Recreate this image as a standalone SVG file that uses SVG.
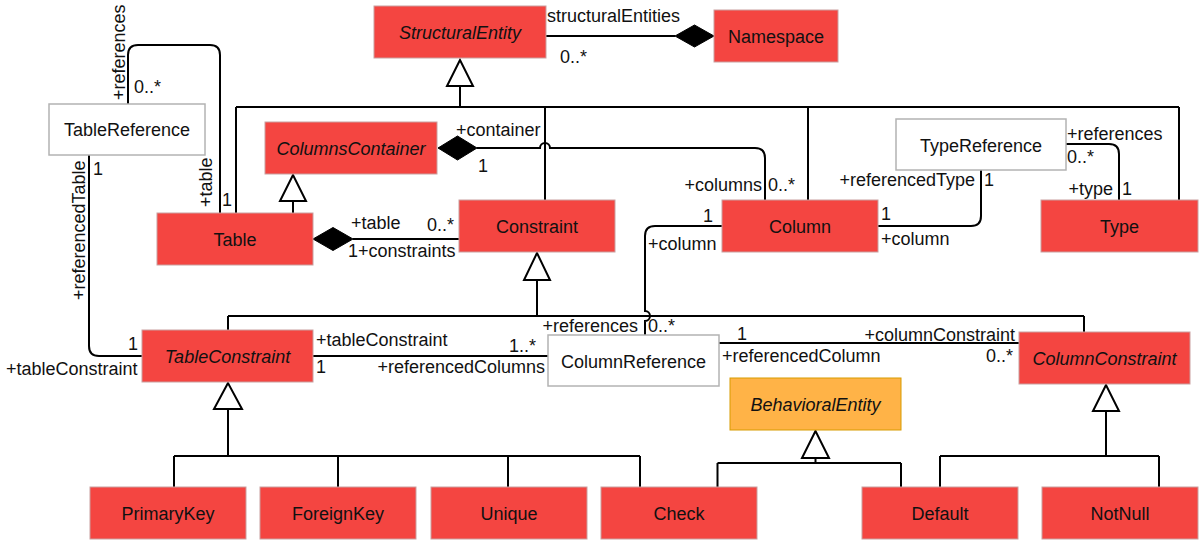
<svg xmlns="http://www.w3.org/2000/svg" width="1203" height="540" viewBox="0 0 1203 540">
<style>
.red{fill:#F44541;stroke:#C9A0A0;stroke-width:1}
.wht{fill:#FFFFFF;stroke:#B3B3B3;stroke-width:1.5}
.org{fill:#FFB347;stroke:#D79B00;stroke-width:1}
.nt{font-family:"Liberation Sans",Arial,sans-serif;font-size:18px;fill:#111;text-anchor:middle}
.it{font-style:italic}
.lb{font-family:"Liberation Sans",Arial,sans-serif;font-size:18px;fill:#111}
.e{fill:none;stroke:#000;stroke-width:2}
.tri{fill:#FFF;stroke:#000;stroke-width:2}
.dia{fill:#000;stroke:#000;stroke-width:1}
</style>
<rect width="1203" height="540" fill="#FFFFFF"/>
<g id="connectors">
  <!-- StructuralEntity - Namespace composition -->
  <path class="e" d="M546,36 L675,36"/>
  <polygon class="dia" points="714,36 694.5,25 675,36 694.5,47"/>
  <!-- generalization to StructuralEntity -->
  <path class="e" d="M460,86 L460,107 M236,107 L1179,107 M236,107 L236,213 M545,107 L545,200 M808,107 L808,200 M1179,107 L1179,200"/>
  <polygon class="tri" points="460,60 447,86 473,86"/>
  <!-- ColumnsContainer - Column composition -->
  <path class="e" d="M477,148 L540,148 A5,5 0 0 1 550,148 L755,148 Q765,148 765,158 L765,200"/>
  <polygon class="dia" points="438,148 457.5,136 477,148 457.5,160"/>
  <!-- Table inherits ColumnsContainer -->
  <path class="e" d="M293,201 L293,213"/>
  <polygon class="tri" points="293,175 280,201 306,201"/>
  <!-- TableReference - Table -->
  <path class="e" d="M128,104 L128,55 Q128,45 138,45 L210,45 Q220,45 220,55 L220,213"/>
  <!-- TableReference - TableConstraint -->
  <path class="e" d="M89,155 L89,346 Q89,356 99,356 L142,356"/>
  <!-- Table - Constraint composition -->
  <path class="e" d="M353,239 L459,239"/>
  <polygon class="dia" points="313,239 333,227.5 353,239 333,250.5"/>
  <!-- generalization to Constraint -->
  <path class="e" d="M537,280 L537,316 M228,316 L1084,316 M228,316 L228,330 M1084,316 L1084,332"/>
  <polygon class="tri" points="537,253 524,280 550,280"/>
  <!-- Column - ColumnReference -->
  <path class="e" d="M722,226 L655,226 Q645,226 645,236 L645,311 A5,5 0 0 1 645,321 L645,335"/>
  <!-- TypeReference - Column -->
  <path class="e" d="M981,170 L981,216 Q981,226 971,226 L878,226"/>
  <!-- TypeReference - Type -->
  <path class="e" d="M1066,144 L1109,144 Q1119,144 1119,154 L1119,200"/>
  <!-- TableConstraint - ColumnReference -->
  <path class="e" d="M313,356 L548,356"/>
  <!-- ColumnReference - ColumnConstraint -->
  <path class="e" d="M719,343 L1019,343"/>
  <!-- generalization to TableConstraint -->
  <path class="e" d="M228,409 L228,456 M174,456 L640,456 M174,456 L174,487 M338,456 L338,487 M508,456 L508,487 M640,456 L640,487"/>
  <polygon class="tri" points="228,383 214,409 242,409"/>
  <!-- generalization to BehavioralEntity -->
  <path class="e" d="M815.5,458 L815.5,463 M717.5,463 L901,463 M717.5,463 L717.5,487 M901,463 L901,487"/>
  <polygon class="tri" points="815.5,431 802,458 829,458"/>
  <!-- generalization to ColumnConstraint -->
  <path class="e" d="M1106,411 L1106,456 M940,456 L1159,456 M940,456 L940,487 M1159,456 L1159,487"/>
  <polygon class="tri" points="1106,385 1093,411 1119,411"/>
</g>
<g id="labels">
  <text class="lb" x="547" y="22">structuralEntities</text>
  <text class="lb" x="560" y="63">0..*</text>
  <text class="lb" x="456" y="136">+container</text>
  <text class="lb" x="478" y="172">1</text>
  <text class="lb" x="762" y="191" text-anchor="end">+columns</text>
  <text class="lb" x="768" y="191">0..*</text>
  <text class="lb" transform="translate(125,100) rotate(-90)">+references</text>
  <text class="lb" x="134" y="93">0..*</text>
  <text class="lb" transform="translate(212,207) rotate(-90)">+table</text>
  <text class="lb" x="222" y="206">1</text>
  <text class="lb" transform="translate(85,300) rotate(-90)">+referencedTable</text>
  <text class="lb" x="93" y="175">1</text>
  <text class="lb" x="128" y="350">1</text>
  <text class="lb" x="6" y="375">+tableConstraint</text>
  <text class="lb" x="351" y="229">+table</text>
  <text class="lb" x="427" y="231">0..*</text>
  <text class="lb" x="348" y="257">1+constraints</text>
  <text class="lb" x="703" y="222">1</text>
  <text class="lb" x="648" y="250">+column</text>
  <text class="lb" x="638" y="332" text-anchor="end">+references</text>
  <text class="lb" x="648" y="332">0..*</text>
  <text class="lb" x="975" y="186" text-anchor="end">+referencedType</text>
  <text class="lb" x="984" y="186">1</text>
  <text class="lb" x="881" y="220">1</text>
  <text class="lb" x="881" y="245">+column</text>
  <text class="lb" x="1067" y="140">+references</text>
  <text class="lb" x="1067" y="163">0..*</text>
  <text class="lb" x="1113" y="195" text-anchor="end">+type</text>
  <text class="lb" x="1122" y="195">1</text>
  <text class="lb" x="316" y="346">+tableConstraint</text>
  <text class="lb" x="316" y="373">1</text>
  <text class="lb" x="509" y="352">1..*</text>
  <text class="lb" x="545" y="373" text-anchor="end">+referencedColumns</text>
  <text class="lb" x="737" y="340">1</text>
  <text class="lb" x="722" y="362">+referencedColumn</text>
  <text class="lb" x="1015" y="341" text-anchor="end">+columnConstraint</text>
  <text class="lb" x="986" y="362">0..*</text>
</g>
<g id="StructuralEntity"><rect class="red" x="374" y="6" width="172" height="52"/><text class="nt it" x="460" y="38.5">StructuralEntity</text></g>
<g id="Namespace"><rect class="red" x="714" y="10" width="124" height="52"/><text class="nt" x="776" y="42.5">Namespace</text></g>
<g id="TableReference"><rect class="wht" x="49" y="104" width="156" height="51"/><text class="nt" x="127" y="136">TableReference</text></g>
<g id="ColumnsContainer"><rect class="red" x="265" y="122" width="172" height="52"/><text class="nt it" x="351" y="154.5">ColumnsContainer</text></g>
<g id="TypeReference"><rect class="wht" x="896" y="119" width="170" height="51"/><text class="nt" x="981" y="151.5">TypeReference</text></g>
<g id="Table"><rect class="red" x="157" y="213" width="156" height="52"/><text class="nt" x="235" y="245.5">Table</text></g>
<g id="Constraint"><rect class="red" x="459" y="200" width="156" height="52"/><text class="nt" x="537" y="232.5">Constraint</text></g>
<g id="Column"><rect class="red" x="722" y="200" width="156" height="52"/><text class="nt" x="800" y="232.5">Column</text></g>
<g id="Type"><rect class="red" x="1041" y="200" width="157" height="52"/><text class="nt" x="1119.5" y="232.5">Type</text></g>
<g id="TableConstraint"><rect class="red" x="142" y="330" width="171" height="52"/><text class="nt it" x="227.5" y="362.5">TableConstraint</text></g>
<g id="ColumnReference"><rect class="wht" x="548" y="335" width="171" height="51"/><text class="nt" x="633.5" y="368">ColumnReference</text></g>
<g id="ColumnConstraint"><rect class="red" x="1019" y="332" width="171" height="52"/><text class="nt it" x="1104.5" y="364.5">ColumnConstraint</text></g>
<g id="BehavioralEntity"><rect class="org" x="730" y="378" width="171" height="52"/><text class="nt it" x="815.5" y="410.5">BehavioralEntity</text></g>
<g id="PrimaryKey"><rect class="red" x="90" y="487" width="156" height="52"/><text class="nt" x="168" y="519.5">PrimaryKey</text></g>
<g id="ForeignKey"><rect class="red" x="260" y="487" width="156" height="52"/><text class="nt" x="338" y="519.5">ForeignKey</text></g>
<g id="Unique"><rect class="red" x="431" y="487" width="156" height="52"/><text class="nt" x="509" y="519.5">Unique</text></g>
<g id="Check"><rect class="red" x="601" y="487" width="156" height="52"/><text class="nt" x="679" y="519.5">Check</text></g>
<g id="Default"><rect class="red" x="862" y="487" width="156" height="52"/><text class="nt" x="940" y="519.5">Default</text></g>
<g id="NotNull"><rect class="red" x="1042" y="487" width="156" height="52"/><text class="nt" x="1120" y="519.5">NotNull</text></g>
</svg>
